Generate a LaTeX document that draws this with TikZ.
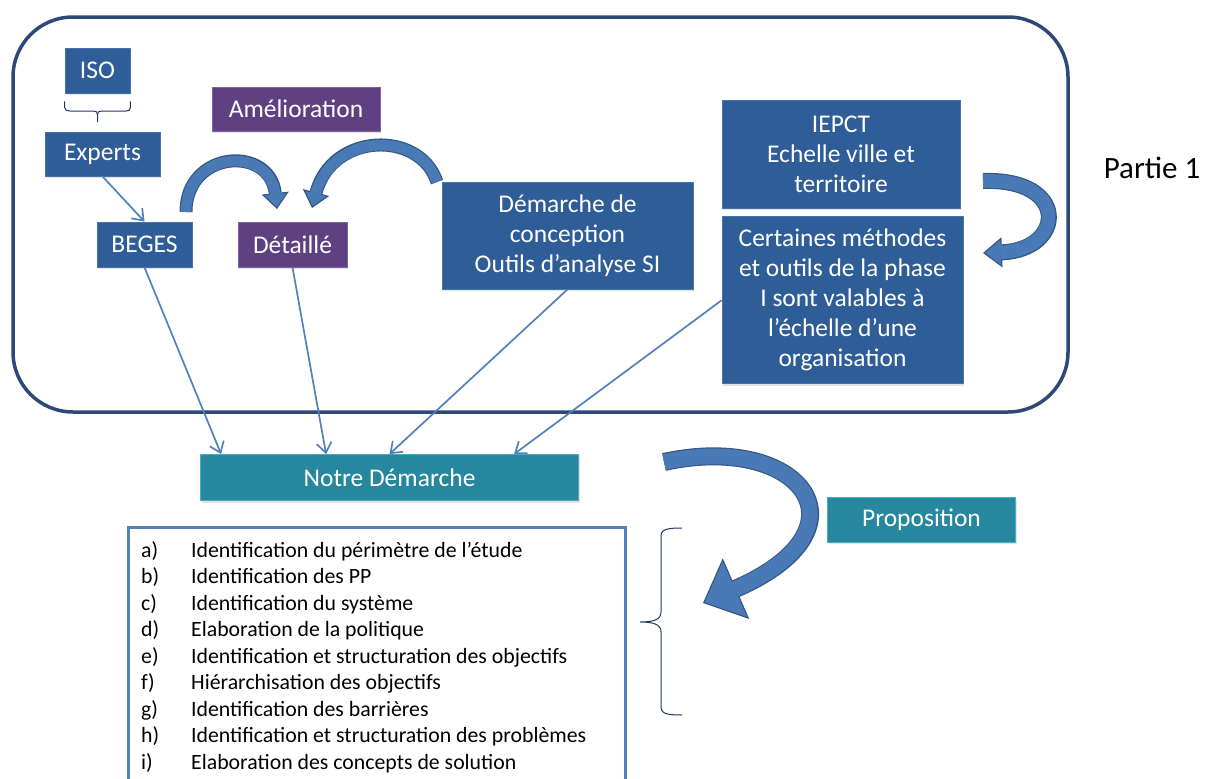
\documentclass[tikz,border=0pt]{standalone}
\usepackage{fontspec}
\setmainfont{Carlito}
\usetikzlibrary{positioning,arrows.meta,shadows}

\definecolor{boxblue}{RGB}{47,93,151}
\definecolor{boxedge}{RGB}{72,114,172}
\definecolor{boxpurple}{RGB}{95,64,128}
\definecolor{purpleedge}{RGB}{128,100,162}
\definecolor{boxteal}{RGB}{39,135,158}
\definecolor{tealedge}{RGB}{75,172,198}
\definecolor{framecol}{RGB}{46,72,120}
\definecolor{linkblue}{RGB}{79,129,189}
\definecolor{arrowfill}{RGB}{74,122,182}
\definecolor{arrowedge}{RGB}{52,88,134}
\definecolor{bracecol}{RGB}{31,56,100}

\tikzset{
  basebox/.style={text=white, inner sep=0pt, align=center,
    font=\fontsize{25.5}{30}\selectfont,
    drop shadow={opacity=0.22, shadow xshift=1pt, shadow yshift=-2pt}},
  bluebox/.style={basebox, fill=boxblue, draw=boxedge, line width=0.8pt},
  purplebox/.style={basebox, fill=boxpurple, draw=purpleedge, line width=0.8pt},
  tealbox/.style={basebox, fill=boxteal, draw=tealedge, line width=0.8pt},
  link/.style={draw=linkblue, line width=1.7pt, -{Straight Barb[length=10pt,width=15pt]}},
  bigarrow/.style n args={3}{draw=arrowedge, line width=#1,
    -{Triangle[width=#2, length=#3, line width=1.2pt, fill=arrowfill]},
    postaction={draw=arrowfill, line width=#1-2.4pt, -, shorten >=#3-1.5pt}},
  bracket/.style={draw=bracecol, line width=1pt},
  listitem/.style={font=\fontsize{21.8}{26}\selectfont, inner sep=0pt}
}

\begin{document}
\begin{tikzpicture}[x=1pt,y=-1pt]
  \useasboundingbox (0,0) rectangle (1205,779);

  % cadre partie 1
  \draw[framecol, line width=3.5pt, rounded corners=60pt] (13,17) rectangle (1068,412);

  \node[bluebox, minimum width=65pt, minimum height=45pt] (iso) at (97.5,70.5) {ISO};
  \node[bluebox, minimum width=115pt, minimum height=44pt] (experts) at (102.5,154) {Experts};
  \node[bluebox, minimum width=95pt, minimum height=45pt] (beges) at (144.5,244.5) {BEGES};
  \node[purplebox, minimum width=109pt, minimum height=45pt] (detaille) at (292.5,244.5) {Détaillé};
  \node[purplebox, minimum width=168pt, minimum height=44pt] (amelioration) at (296,109) {Amélioration};
  \node[bluebox, minimum width=251pt, minimum height=107pt] (demarche) at (567.5,235.5)
    {Démarche de\\conception\\Outils d’analyse SI};
  \node[bluebox, minimum width=238pt, minimum height=108pt] (iepct) at (841,154)
    {IEPCT\\Echelle ville et\\territoire};
  \node[bluebox, minimum width=241pt, minimum height=167pt,
        below=8pt of iepct.south west, anchor=north west] (certaines)
    {Certaines méthodes\\et outils de la phase\\I sont valables à\\l’échelle d’une\\organisation};
  \node[tealbox, minimum width=378pt, minimum height=46pt] (notre) at (389.5,477.5) {Notre Démarche};
  \node[tealbox, minimum width=188pt, minimum height=45pt] (proposition) at (921.5,519.5) {Proposition};
  \node[font=\fontsize{31}{37}\selectfont, inner sep=0pt] (partie) at (1152,168) {Partie 1};

  % accolade sous ISO
  \draw[bracket] ([yshift=-8pt]iso.south west) -- ++(0,6)
    .. controls ++(0,3) and ++(-3,0) .. (70,111) -- (93.5,111)
    .. controls ++(3,0) and ++(0,-3) .. (97.5,115) -- (97.5,122);
  \draw[bracket] ([yshift=-8pt]iso.south east) -- ++(0,6)
    .. controls ++(0,3) and ++(3,0) .. (126,111) -- (101.5,111)
    .. controls ++(-3,0) and ++(0,-3) .. (97.5,115);

  % liens
  \draw[link] (experts.south) -- (beges.north);
  \draw[link] (beges.south) -- ([xshift=21pt]notre.north west);
  \draw[link] (detaille.south) -- ([xshift=126pt]notre.north west);
  \draw[link] (demarche.south) -- (notre.north);
  \draw[link] (certaines.west) -- ([xshift=314pt]notre.north west);

  % grosses fleches
  \coordinate (a1s) at (186,212);
  \coordinate (a1e) at (277,209);
  \coordinate (a2s) at (437,182);
  \coordinate (a2e) at (312,208);
  \coordinate (a3s) at (983,181);
  \coordinate (a3e) at (983,253);
  \coordinate (a4s) at (664,462);
  \coordinate (a4e) at (703,603);
  \draw[bigarrow={13pt}{27pt}{16pt}] (a1s) .. controls (186,150) and (270,145) .. (a1e);
  \draw[bigarrow={13pt}{27pt}{16pt}] (a2s) .. controls (420,130) and (332,132) .. (a2e);
  \draw[bigarrow={16pt}{30pt}{19pt}] (a3s) .. controls (1070,178) and (1065,250) .. (a3e);
  \draw[bigarrow={18pt}{66pt}{36pt}] (a4s) .. controls (800,432) and (875,528) .. (a4e);

  % liste
  \draw[linkblue, line width=3pt] (128,782) -- (128,527) -- (625,527) -- (625,782);
  \foreach \lab/\txt [count=\i from 0] in {
      a)/Identification du périmètre de l’étude,
      b)/Identification des PP,
      c)/Identification du système,
      d)/Elaboration de la politique,
      e)/Identification et structuration des objectifs,
      f)/Hiérarchisation des objectifs,
      g)/Identification des barrières,
      h)/Identification et structuration des problèmes,
      i)/Elaboration des concepts de solution}
  {
    \node[listitem, anchor=base west] (lab\i) at (141,557+26.5*\i) {\lab};
    \node[listitem, anchor=base west] (item\i) at (191,557+26.5*\i) {\txt};
  }

  % accolade de droite
  \draw[bracket] (682,528) .. controls (668,528) and (661,529) .. (661,536) -- (661,612)
    .. controls (661,619) and (655,622) .. (640,622)
    .. controls (655,622) and (661,625) .. (661,632) -- (661,707)
    .. controls (661,714) and (668,715) .. (682,715);
\end{tikzpicture}
\end{document}
